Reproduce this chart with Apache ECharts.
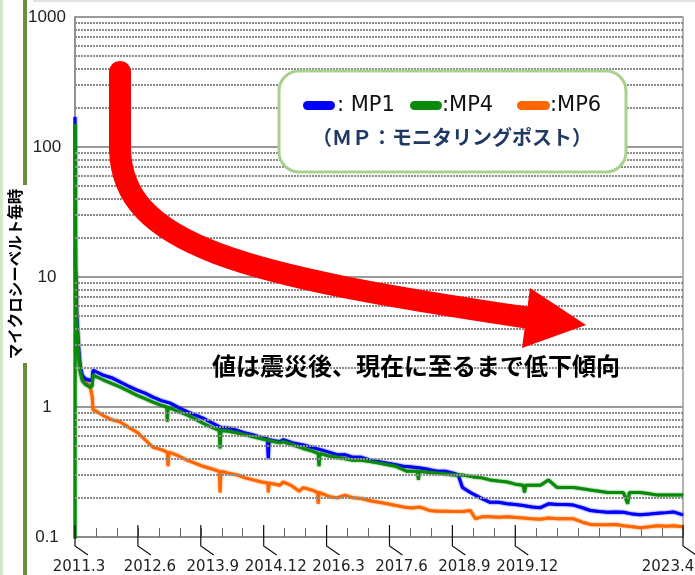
<!DOCTYPE html>
<html><head><meta charset="utf-8">
<script src="https://cdn.jsdelivr.net/npm/echarts@6/dist/echarts.min.js"></script>
<style>html,body{margin:0;padding:0;background:#fff}#c{width:695px;height:575px}</style>
</head><body><div id="c"></div>
<script>
// x = months since 2011.3
const xMajorMonths = [0, 15, 30, 45, 60, 75, 90, 105, 145];
const xMajorLabels = ['2011.3','2012.6','2013.9','2014.12','2016.3','2017.6','2018.9','2019.12','2023.4'];
const yTickValues = [0.1, 1, 10, 100, 1000];
const yTickLabels = ['0.1', '1', '10', '100', '1000'];
const minorGridValues = [0.2,0.3,0.4,0.5,0.6,0.7,0.8,0.9,2,3,4,5,6,7,8,9,20,30,40,50,60,70,80,90,200,300,400,500,600,700,800,900];

const mp1 = [[0,170],[0.1,12],[0.4,5],[0.8,3.0],[1.2,2.1],[1.7,1.76],[2.4,1.65],[3.6,1.6],[4.1,1.62],[4.3,1.92],
[5.3,1.85],[6.7,1.76],[8.7,1.68],[10.7,1.56],[12.7,1.45],[14.8,1.35],[16.7,1.28],[18.6,1.19],[20.6,1.12],[22.7,1.07],
[24.7,0.99],[26.7,0.92],[28.6,0.87],[30.5,0.82],[32.5,0.76],[34.6,0.70],[36.6,0.69],[38.7,0.66],[40.6,0.63],[42.5,0.61],
[44.5,0.58],[45.9,0.57],[46.1,0.40],[46.3,0.56],[47.5,0.55],[48.9,0.54],[49.6,0.56],[52,0.53],[54.4,0.51],[56.4,0.49],
[58.5,0.47],[60.5,0.45],[62.5,0.43],[64.4,0.43],[66.3,0.41],[68.3,0.41],[70.4,0.39],[72.5,0.38],[74.5,0.37],[76.5,0.36],
[78.3,0.35],[80.3,0.345],[82.3,0.34],[84.5,0.33],[86.4,0.32],[88.3,0.32],[90.2,0.31],[91.4,0.30],[92.4,0.24],[94.3,0.22],
[96.7,0.20],[99,0.185],[101,0.185],[103.1,0.18],[105,0.178],[106.9,0.175],[109,0.17],[111,0.168],[112.9,0.18],[115,0.178],
[117,0.178],[118.9,0.176],[121,0.168],[122.9,0.16],[125,0.157],[127,0.155],[129,0.156],[130.8,0.155],[133,0.15],[134.8,0.148],
[137,0.15],[138.9,0.152],[141,0.154],[142.7,0.156],[145,0.148]];

const mp4 = [[0,0.05],[0.05,150],[0.15,10],[0.4,4.5],[0.8,2.7],[1.2,1.9],[1.7,1.6],[2.4,1.5],[3.6,1.42],[4.1,1.45],[4.3,1.76],
[5.3,1.7],[6.7,1.62],[8.7,1.52],[10.7,1.43],[12.7,1.33],[14.8,1.23],[16.7,1.16],[18.6,1.09],[20.6,1.03],[21.9,1.0],[22.0,0.77],
[22.2,0.99],[22.7,0.98],[24.7,0.92],[26.7,0.87],[28.6,0.81],[30.5,0.75],[32.5,0.70],[34.4,0.66],[34.6,0.48],[34.8,0.66],
[36.6,0.65],[38.7,0.63],[40.6,0.61],[42.5,0.59],[44.5,0.57],[46.5,0.55],[48.9,0.53],[49.6,0.54],[52,0.51],[54.4,0.48],
[56.4,0.46],[58,0.44],[58.2,0.35],[58.4,0.44],[60.5,0.42],[62.5,0.41],[64.4,0.40],[66.3,0.39],[68.3,0.39],[70.4,0.38],
[72.5,0.37],[74.5,0.36],[76.5,0.35],[78.3,0.33],[79.2,0.32],[80.5,0.32],[81.7,0.32],[81.9,0.275],[82.1,0.32],[84,0.315],
[86.4,0.31],[88.3,0.305],[90.2,0.30],[92.4,0.30],[95,0.29],[97,0.285],[99,0.275],[101,0.27],[103.1,0.265],[105,0.255],
[106.9,0.25],[107.2,0.22],[107.5,0.25],[109,0.25],[111,0.25],[112.9,0.275],[115,0.24],[117,0.24],[118.9,0.24],[121,0.235],
[122.9,0.23],[125,0.225],[127,0.22],[129,0.22],[130.8,0.22],[131.8,0.18],[132.2,0.22],[134.8,0.22],[137,0.215],[138.9,0.21],
[141,0.21],[142.7,0.21],[145,0.21]];

const mp6 = [[0,16.7],[0.24,9],[0.4,4.9],[0.8,2.7],[1.2,2.0],[1.7,1.7],[2.4,1.55],[3.6,1.45],[3.9,1.5],[4.1,1.2],[4.3,0.95],
[5.3,0.92],[6.7,0.86],[8.7,0.80],[10.7,0.77],[12.7,0.70],[14.8,0.64],[16.7,0.56],[18.6,0.49],[20.6,0.47],[22,0.45],[22.2,0.35],
[22.4,0.45],[24.7,0.42],[26.7,0.39],[28.6,0.37],[30.5,0.35],[32.5,0.335],[34.4,0.32],[34.6,0.22],[34.8,0.32],[36.6,0.31],
[38.7,0.30],[40.6,0.285],[42.5,0.275],[44.5,0.265],[46.0,0.26],[46.1,0.22],[46.3,0.26],[48.9,0.25],[49.6,0.265],[51.5,0.25],
[53.5,0.225],[54.4,0.24],[56.4,0.23],[57.9,0.22],[58.0,0.18],[58.2,0.22],[60.5,0.205],[62.5,0.20],[64.4,0.21],[66.3,0.20],
[68.3,0.198],[70.4,0.19],[72.5,0.185],[74.5,0.18],[76.5,0.175],[78.3,0.17],[80.3,0.167],[82.3,0.17],[84.5,0.16],[86.4,0.158],
[88.3,0.158],[90.2,0.157],[92.4,0.157],[94.3,0.16],[95.5,0.138],[97,0.143],[99,0.143],[101,0.142],[103.1,0.143],[106.9,0.14],
[109,0.138],[111,0.137],[112.9,0.14],[115,0.138],[118.9,0.138],[121,0.13],[122.9,0.125],[125,0.124],[127,0.124],[129,0.125],
[130.8,0.122],[133,0.12],[134.8,0.118],[137,0.12],[138.9,0.122],[141,0.121],[142.7,0.122],[145,0.12]];

const seriesNames = ['MP1', 'MP4', 'MP6'];
const seriesColors = ['#0000ff', '#0a8a0a', '#ff6600'];

const chart = echarts.init(document.getElementById('c'));
const lineBase = (name, data, color) => ({
  name, type: 'line', data, showSymbol: false, symbol: 'none',
  lineStyle: { color, width: 3, shadowColor: color, shadowBlur: 2 }, itemStyle: { color }, z: 3, silent: true
});
const labelFont = { fontSize: 15, fontFamily: 'DejaVu Sans', color: '#222' };
const option = {
  animation: false,
  backgroundColor: '#ffffff',
  grid: { left: 75, right: 12, top: 17, bottom: 38, show: true, borderColor: '#999', borderWidth: 1.5, outerBoundsMode: 'none' },
  xAxis: {
    type: 'value', min: 0, max: 145, interval: 5,
    axisLine: { show: true, lineStyle: { color: '#888', width: 1.5 } },
    axisTick: { show: true, inside: true, length: 9, lineStyle: { color: '#666', width: 1 } },
    splitLine: { show: false },
    axisLabel: {
      show: true, interval: 0, margin: 23, showMinLabel: true, showMaxLabel: true, hideOverlap: false,
      formatter: v => {
        const i = xMajorMonths.indexOf(Math.round(v));
        if (i < 0) return '';
        const key = i === 0 ? 'c' : (i === xMajorMonths.length - 1 ? 'b' : 'a');
        return '{' + key + '|' + xMajorLabels[i] + '}';
      },
      rich: {
        a: Object.assign({ padding: [0, 0, 0, 24] }, labelFont),
        b: Object.assign({ padding: [0, 30, 0, 0] }, labelFont),
        c: Object.assign({ padding: [0, 0, 0, 8] }, labelFont)
      }
    }
  },
  yAxis: {
    type: 'log', logBase: 10, min: 0.1, max: 1000,
    axisLine: { show: true, lineStyle: { color: '#888', width: 1.5 } },
    axisTick: { show: false },
    splitLine: { show: true, lineStyle: { color: '#9a9a9a', width: 2 } },
    axisLabel: {
      margin: 28, align: 'center', fontSize: 17, fontFamily: 'Liberation Sans', color: '#222',
      formatter: v => {
        let best = 0;
        yTickValues.forEach((t, i) => { if (Math.abs(Math.log10(t) - Math.log10(v)) < Math.abs(Math.log10(yTickValues[best]) - Math.log10(v))) best = i; });
        return yTickLabels[best];
      }
    }
  },
  series: [
    {
      type: 'line', data: [[0, 0.05]], symbol: 'none', showSymbol: false, lineStyle: { width: 0 }, silent: true, z: 1,
      markLine: {
        silent: true, symbol: 'none', label: { show: false }, animation: false,
        lineStyle: { color: '#8c8c8c', type: [2, 1], width: 2 },
        data: minorGridValues.map(v => ({ yAxis: v }))
      }
    },
    lineBase(seriesNames[2], mp6, seriesColors[2]),
    lineBase(seriesNames[0], mp1, seriesColors[0]),
    lineBase(seriesNames[1], mp4, seriesColors[1]),
    {
      type: 'custom', clip: false, silent: true, z: 5,
      data: xMajorMonths.map(m => [m, 0.1]),
      renderItem: (params, api) => {
        const p = api.coord([api.value(0), api.value(1)]);
        return {
          type: 'polyline',
          shape: { points: [[p[0], p[1] - 12], [p[0], p[1] + 9], [p[0] + 13, p[1] + 18]] },
          style: { stroke: '#111', lineWidth: 1.2, fill: null }
        };
      }
    }
  ],
  graphic: [
    { type: 'rect', shape: { x: 0, y: 0, width: 3, height: 575 }, style: { fill: '#d5e8cc' }, silent: true },
    { type: 'rect', shape: { x: 33, y: 0, width: 662, height: 2 }, style: { fill: '#e3e3e3' }, silent: true },
    { type: 'rect', shape: { x: 23, y: 0, width: 4, height: 185 }, style: { fill: '#6b8e3e' }, silent: true },
    { type: 'rect', shape: { x: 23, y: 363, width: 4, height: 212 }, style: { fill: '#6b8e3e' }, silent: true },
    { type: 'text', x: 15, y: 274, rotation: Math.PI / 2, silent: true,
      style: { text: 'マイクロシーベルト毎時', fontSize: 15.5, fontWeight: 'bold', fontFamily: 'Noto Sans CJK JP', fill: '#000', align: 'center', verticalAlign: 'middle' } },
    { type: 'line', silent: true, z: 100,
      shape: { x1: 120, y1: 72, x2: 120, y2: 150 },
      style: { stroke: '#ff0000', lineWidth: 22, lineCap: 'round' } },
    { type: 'bezierCurve', silent: true, z: 100,
      shape: { x1: 120, y1: 149, cpx1: 122, cpy1: 245, cpx2: 240, cpy2: 275, x2: 530, y2: 318 },
      style: { stroke: '#ff0000', lineWidth: 22, fill: null, lineCap: 'butt' } },
    { type: 'polygon', silent: true, z: 101, shape: { points: [[530, 288], [586, 325], [522, 348]] }, style: { fill: '#ff0000' } },
    { type: 'rect', silent: true, z: 102, shape: { x: 279, y: 71, width: 347, height: 101, r: 20 }, style: { fill: '#fff', stroke: '#a9d18e', lineWidth: 3 } },
    { type: 'rect', silent: true, z: 103, shape: { x: 303, y: 101, width: 32, height: 9, r: 4.5 }, style: { fill: seriesColors[0] } },
    { type: 'rect', silent: true, z: 103, shape: { x: 410, y: 101, width: 32, height: 9, r: 4.5 }, style: { fill: seriesColors[1] } },
    { type: 'rect', silent: true, z: 103, shape: { x: 517, y: 101, width: 33, height: 9, r: 4.5 }, style: { fill: seriesColors[2] } },
    { type: 'text', silent: true, z: 103, x: 337, y: 106, style: { text: ': ' + seriesNames[0], fontSize: 21, fontFamily: 'DejaVu Sans', fill: '#111', align: 'left', verticalAlign: 'middle' } },
    { type: 'text', silent: true, z: 103, x: 442, y: 106, style: { text: ':' + seriesNames[1], fontSize: 21, fontFamily: 'DejaVu Sans', fill: '#111', align: 'left', verticalAlign: 'middle' } },
    { type: 'text', silent: true, z: 103, x: 550, y: 106, style: { text: ':' + seriesNames[2], fontSize: 21, fontFamily: 'DejaVu Sans', fill: '#111', align: 'left', verticalAlign: 'middle' } },
    { type: 'text', silent: true, z: 103, x: 452, y: 137, style: { text: '（ＭＰ：モニタリングポスト）', fontSize: 20, fontWeight: 'bold', fontFamily: 'Noto Sans CJK JP', fill: '#1f3864', align: 'center', verticalAlign: 'middle' } },
    { type: 'text', silent: true, z: 103, x: 416, y: 366, style: { text: '値は震災後、現在に至るまで低下傾向', fontSize: 24, fontWeight: 'bold', fontFamily: 'Noto Sans CJK JP', fill: '#000', align: 'center', verticalAlign: 'middle' } }
  ]
};
chart.setOption(option);
</script>
</body></html>
